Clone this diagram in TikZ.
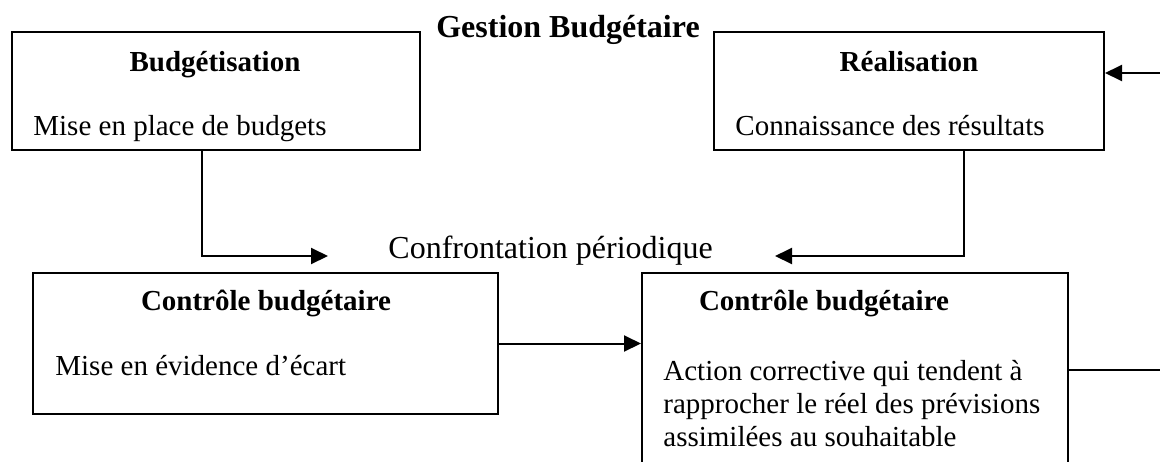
\documentclass[tikz,border=0pt]{standalone}
\usepackage{fontspec}
\setmainfont{Liberation Serif}
\usepackage{tikz}
\usepackage{xcolor}
\usetikzlibrary{arrows.meta, positioning, calc}
\tikzstyle{arrow} = [line width=1pt,-{Triangle[length=8.5pt,width=8pt]}]
\tikzstyle{link} = [line width=1pt]
\tikzstyle{box} = [rectangle, draw, line width=1pt, inner sep=0pt]
\tikzstyle{head} = [font=\fontsize{14.5}{17}\selectfont\bfseries, anchor=base, inner sep=0pt]
\tikzstyle{body} = [font=\fontsize{14.5}{17}\selectfont, anchor=base west, inner sep=0pt]

\begin{document}
\begin{tikzpicture}[x=0.5pt, y=-0.5pt]
\useasboundingbox (0,0) rectangle (1160,461);

% Boxes
\node[box, minimum width=204pt, minimum height=59pt] (budget) at (216,91) {};
\node[box, minimum width=195pt, minimum height=59pt] (realis) at (909,91) {};
\node[box, minimum width=232.5pt, minimum height=70.5pt] (ecart) at (265.5,343.5) {};
\node[box, minimum width=213pt, minimum height=113.5pt] (action) at (855,386.5) {};

% Texts
\node[head, font=\fontsize{16}{19}\selectfont\bfseries] (gestion) at (568,37) {Gestion Budgétaire};
\node[head] (budgettitle) at (215,71) {Budgétisation};
\node[body] (budgettext) at (33,135) {Mise en place de budgets};
\node[head] (realistitle) at (909,71) {Réalisation};
\node[body] (realistext) at (735,135) {Connaissance des résultats};
\node[body, font=\fontsize{16}{19}\selectfont] (confront) at (388,258) {Confrontation périodique};
\node[head] (ecarttitle) at (266,310) {Contrôle budgétaire};
\node[body] (ecarttext) at (55,375) {Mise en évidence d’écart};
\node[head] (actiontitle) at (824,310) {Contrôle budgétaire};
\node[body] (actiontext1) at (663,380) {Action corrective qui tendent à};
\node[body] (actiontext2) at (663,413) {rapprocher le réel des prévisions};
\node[body] (actiontext3) at (663,446) {assimilées au souhaitable};

% Free ends
\coordinate (inL) at (328,256);
\coordinate (inR) at (775,256);
\coordinate (feedR) at (1160,73);
\coordinate (outR) at (1160,370);

% Arrows
\draw[arrow] ([xshift=-7pt]budget.south) |- (inL);
\draw[arrow] ([xshift=27.5pt]realis.south) |- (inR);
\draw[arrow] (feedR) -- (feedR -| realis.east);
\draw[arrow] (ecart.east) -- (ecart.east -| action.west);
\draw[link] (outR -| action.east) -- (outR);

\end{tikzpicture}
\end{document}
